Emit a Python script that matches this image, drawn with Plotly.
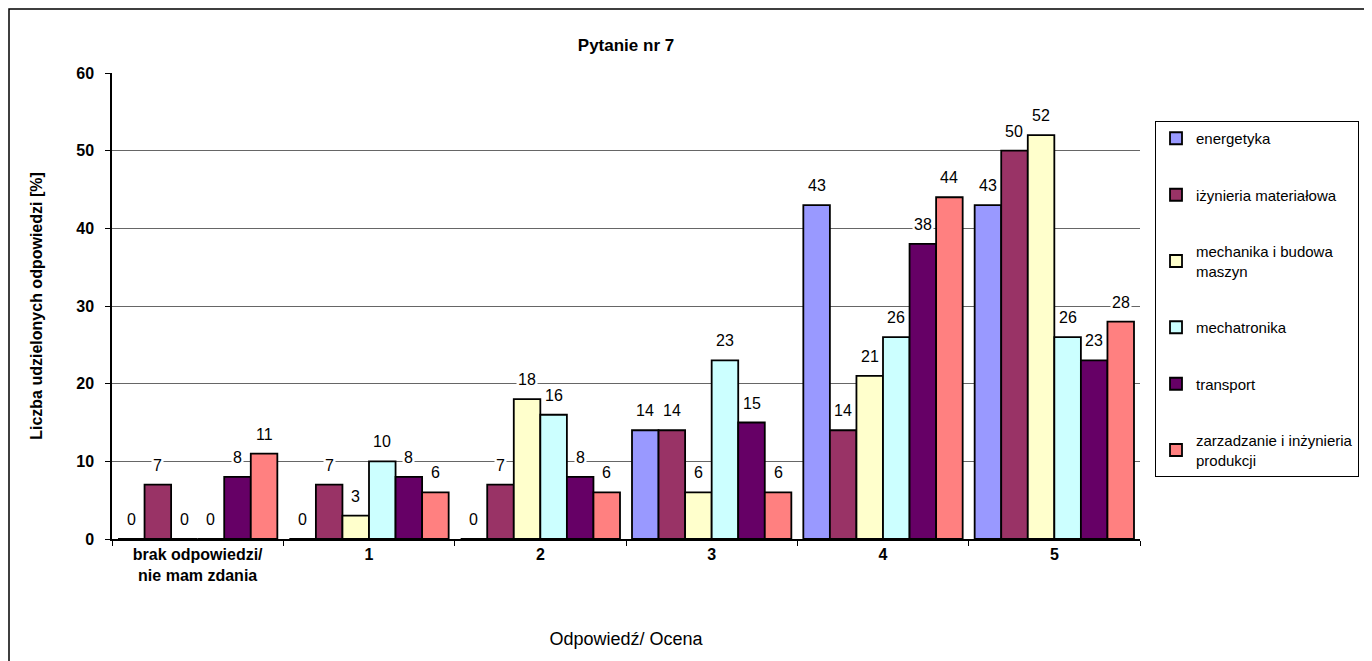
import plotly.graph_objects as go

categories = ['brak odpowiedzi/<br>nie mam zdania', '1', '2', '3', '4', '5']

series_names = ['energetyka', 'iżynieria materiałowa', 'mechanika i budowa<br>maszyn',
                'mechatronika', 'transport', 'zarzadzanie i inżynieria<br>produkcji']
colors = ['#9999FF', '#993366', '#FFFFCC', '#CCFFFF', '#660066', '#FF8080']

energetyka = [0, 0, 0, 14, 43, 43]
inz_materialowa = [7, 7, 7, 14, 14, 50]
mechanika = [0, 3, 18, 6, 21, 52]
mechatronika = [0, 10, 16, 23, 26, 26]
transport = [8, 8, 8, 15, 38, 23]
zarzadzanie = [11, 6, 6, 6, 44, 28]

values = [energetyka, inz_materialowa, mechanika, mechatronika, transport, zarzadzanie]

FONT = 'Liberation Sans, Arial, sans-serif'

# page is shown with 8px body offset, so plot area sits at 104..1132 x 65..531
W, H = 1372, 661
ML, MR, MT, MB = 104, 240, 65, 130
BARGAP = 0.07

fig = go.Figure()
for i, (name, col, vals) in enumerate(zip(series_names, colors, values)):
    fig.add_trace(go.Bar(
        x=categories, y=vals, name=name, legendgroup=str(i),
        marker=dict(color=col, line=dict(color='black', width=1.8)),
    ))

# value labels as annotations with white boxes (like Excel)
plot_w = W - ML - MR
bar_w = plot_w / len(categories) * (1 - BARGAP) / len(values)
for i, vals in enumerate(values):
    for cat, v in zip(categories, vals):
        fig.add_annotation(
            x=cat, y=v, xref='x', yref='y', text=str(v), showarrow=False,
            xshift=(i - (len(values) - 1) / 2) * bar_w, yanchor='bottom', yshift=9,
            bgcolor='white', borderpad=1,
            font=dict(family=FONT, size=16, color='black'),
        )

fig.update_layout(
    width=W, height=H,
    paper_bgcolor='white', plot_bgcolor='white',
    margin=dict(l=ML, r=MR, t=MT, b=MB),
    barmode='group', bargap=BARGAP, bargroupgap=0,
    font=dict(family=FONT, color='black', size=14),
    title=dict(text='<b>Pytanie nr 7</b>', x=0.5, xref='paper', y=1 - 37 / H,
               yanchor='middle', font=dict(size=17)),
    showlegend=True,
    legend=dict(
        x=1.0146, y=0.897, xanchor='left', yanchor='top',
        traceorder='grouped', tracegroupgap=34,
        bordercolor='black', borderwidth=1, bgcolor='white',
        font=dict(size=15, family=FONT), entrywidth=178, entrywidthmode='pixels',
    ),
)

fig.update_yaxes(
    range=[0, 60], dtick=10, showgrid=True, gridcolor='#666666', gridwidth=1,
    showline=True, linecolor='black', linewidth=1.5, ticks='outside', ticklen=5,
    tickcolor='black', tickfont=dict(size=16, family=FONT), ticklabelstandoff=8,
    tickprefix='<b>', ticksuffix='</b>', zeroline=False,
    title=dict(text='<b>Liczba udzielonych odpowiedzi [%]</b>', font=dict(size=16), standoff=30),
)
fig.update_xaxes(
    showline=True, linecolor='black', linewidth=1.5, ticks='outside', ticklen=5,
    tickcolor='black', tickson='boundaries', tickfont=dict(size=16, family=FONT),
    tickprefix='<b>', ticksuffix='</b>',
    title=dict(text='Odpowiedź/ Ocena', font=dict(size=18), standoff=50),
)

# outer chart frame
fig.add_shape(type='rect', xref='paper', yref='paper',
              x0=-(ML - 1) / plot_w, x1=1.3, y0=-0.3, y1=(H - MB - 1) / (H - MT - MB),
              line=dict(color='black', width=1.5), layer='below')

fig.write_html('out.html')
